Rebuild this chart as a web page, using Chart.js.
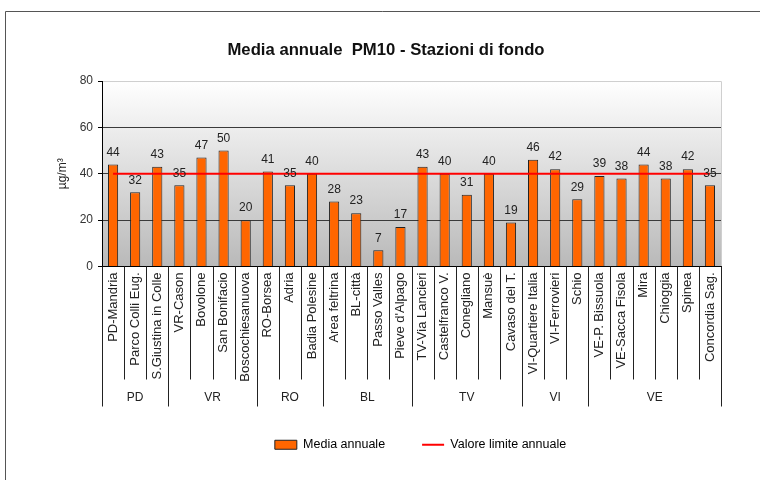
<!DOCTYPE html>
<html>
<head>
<meta charset="utf-8">
<script src="https://cdn.jsdelivr.net/npm/chart.js@4.4.1/dist/chart.umd.min.js"></script>
<style>
  html, body { margin: 0; padding: 0; background: #fff; }
  #wrap { width: 760px; height: 480px; }
</style>
</head>
<body>
<div id="wrap"><canvas id="chart" width="760" height="480"></canvas></div>
<script>
const FONT = "'Liberation Sans', Arial, sans-serif";

// stations, grouped by province
const stations = [
  'PD-Mandria', 'Parco Colli Eug.', 'S.Giustina in Colle',
  'VR-Cason', 'Bovolone', 'San Bonifacio', 'Boscochiesanuova',
  'RO-Borsea', 'Adria', 'Badia Polesine',
  'Area feltrina', 'BL-città', 'Passo Valles', "Pieve d'Alpago",
  'TV-Via Lancieri', 'Castelfranco V.', 'Conegliano', 'Mansuè', 'Cavaso del T.',
  'VI-Quartiere Italia', 'VI-Ferrovieri', 'Schio',
  'VE-P. Bissuola', 'VE-Sacca Fisola', 'Mira', 'Chioggia', 'Spinea', 'Concordia Sag.'
];
const provinces = ['PD', 'VR', 'RO', 'BL', 'TV', 'VI', 'VE'];
const provinceSizes = [3, 4, 3, 4, 5, 3, 6];

const annualMean = [44, 32, 43, 35, 47, 50, 20, 41, 35, 40, 28, 23, 7, 17,
  43, 40, 31, 40, 19, 46, 42, 29, 39, 38, 44, 38, 42, 35];
const annualLimit = [40, 40, 40, 40, 40, 40, 40, 40, 40, 40, 40, 40, 40, 40,
  40, 40, 40, 40, 40, 40, 40, 40, 40, 40, 40, 40, 40, 40];
const yTicks = [0, 20, 40, 60, 80];

// gradient plot background + light frame on top/right
const plotBackground = {
  id: 'plotBackground',
  afterLayout(chart) {
    // legend in the original sits a little right of the plot centre
    chart.legend.left += 9;
    chart.legend.right += 9;
  },
  beforeDraw(chart) {
    const { ctx, chartArea: a } = chart;
    ctx.save();
    const g = ctx.createLinearGradient(0, a.top, 0, a.bottom);
    g.addColorStop(0, '#ffffff');
    g.addColorStop(1, '#b9b9b9');
    ctx.fillStyle = g;
    ctx.fillRect(a.left, a.top, a.right - a.left, a.bottom - a.top);
    ctx.strokeStyle = '#cfcfcf';
    ctx.lineWidth = 1;
    ctx.beginPath();
    ctx.moveTo(a.left, a.top + 0.5);
    ctx.lineTo(a.right + 0.5, a.top + 0.5);
    ctx.lineTo(a.right + 0.5, a.bottom);
    ctx.stroke();
    ctx.restore();
  }
};

// value labels above bars
const barValues = {
  id: 'barValues',
  afterDatasetsDraw(chart) {
    const { ctx } = chart;
    const meta = chart.getDatasetMeta(0);
    ctx.save();
    ctx.font = '12px ' + FONT;
    ctx.fillStyle = '#222';
    ctx.textAlign = 'center';
    ctx.textBaseline = 'bottom';
    meta.data.forEach((bar, i) => {
      ctx.fillText(String(annualMean[i]), bar.x, bar.y - 6);
    });
    ctx.restore();
  }
};

// category separators and province row under the axis
const provinceAxis = {
  id: 'provinceAxis',
  afterDraw(chart) {
    const { ctx, chartArea: a } = chart;
    const x = chart.scales.x;
    const half = (x.getPixelForValue(1) - x.getPixelForValue(0)) / 2;
    const groupEnds = [0];
    provinceSizes.forEach(n => groupEnds.push(groupEnds[groupEnds.length - 1] + n));

    ctx.save();
    ctx.strokeStyle = '#222';
    ctx.lineWidth = 1;
    for (let i = 0; i <= stations.length; i++) {
      const px = Math.round(x.getPixelForValue(i) - half) + 0.5;
      const long = groupEnds.includes(i);
      ctx.beginPath();
      ctx.moveTo(px, a.bottom);
      ctx.lineTo(px, a.bottom + (long ? 140 : 113));
      ctx.stroke();
    }
    ctx.font = '12px ' + FONT;
    ctx.fillStyle = '#222';
    ctx.textAlign = 'center';
    ctx.textBaseline = 'middle';
    provinces.forEach((p, k) => {
      const x0 = x.getPixelForValue(groupEnds[k]) - half;
      const x1 = x.getPixelForValue(groupEnds[k + 1]) - half;
      ctx.fillText(p, (x0 + x1) / 2, a.bottom + 131);
    });

    // page frame
    ctx.strokeStyle = '#555';
    ctx.beginPath();
    ctx.moveTo(760, 11.5);
    ctx.lineTo(5.5, 11.5);
    ctx.lineTo(5.5, 480);
    ctx.stroke();
    ctx.restore();
  }
};

new Chart(document.getElementById('chart'), {
  type: 'bar',
  data: {
    labels: stations,
    datasets: [{
      type: 'bar',
      label: 'Media annuale',
      data: annualMean,
      backgroundColor: '#ff6600',
      borderColor: '#222',
      borderWidth: 1,
      barPercentage: 0.46,
      categoryPercentage: 1,
      order: 1
    }, {
      type: 'line',
      label: 'Valore limite annuale',
      data: annualLimit,
      borderColor: '#ff0000',
      borderWidth: 2,
      pointRadius: 0,
      fill: false,
      order: 0
    }]
  },
  options: {
    responsive: false,
    animation: false,
    devicePixelRatio: 1,
    layout: { padding: { left: 51, right: 39, top: 0, bottom: 19 } },
    scales: {
      x: {
        offset: true,
        grid: { display: false, drawTicks: false },
        border: { display: true, color: '#000', width: 1 },
        ticks: {
          autoSkip: false,
          minRotation: 90,
          maxRotation: 90,
          padding: 6,
          color: '#222',
          font: { family: FONT, size: 13 }
        },
        afterFit(scale) { scale.height = 135; }
      },
      y: {
        min: 0,
        max: 80,
        afterBuildTicks(scale) { scale.ticks = yTicks.map(v => ({ value: v })); },
        grid: {
          color: (c) => c.tick && c.tick.value === 80 ? '#cfcfcf' : '#3a3a3a',
          tickColor: '#000',
          tickLength: 4,
          lineWidth: 1
        },
        border: { display: true, color: '#000', width: 1 },
        ticks: {
          padding: 5,
          color: '#333',
          font: { family: FONT, size: 12 }
        },
        title: {
          display: true,
          text: 'µg/m³',
          color: '#222',
          padding: { top: 4, bottom: 0 },
          font: { family: FONT, size: 12 }
        },
        afterFit(scale) { scale.width = 51; }
      }
    },
    plugins: {
      title: {
        display: true,
        text: 'Media annuale  PM10 - Stazioni di fondo',
        color: '#111',
        font: { family: FONT, size: 16.7, weight: 'bold' },
        padding: { top: 40, bottom: 21 }
      },
      legend: {
        position: 'bottom',
        fullSize: false,
        labels: {
          usePointStyle: true,
          pointStyleWidth: 22,
          boxHeight: 9,
          padding: 37,
          color: '#222',
          font: { family: FONT, size: 12.5 },
          generateLabels: () => [
            { text: 'Media annuale', fillStyle: '#ff6600', strokeStyle: '#222',
              lineWidth: 1, pointStyle: 'rect', datasetIndex: 0, hidden: false },
            { text: 'Valore limite annuale', fillStyle: '#ff0000', strokeStyle: '#ff0000',
              lineWidth: 2, pointStyle: 'line', datasetIndex: 1, hidden: false }
          ]
        }
      },
      tooltip: { enabled: false }
    }
  },
  plugins: [plotBackground, barValues, provinceAxis]
});
</script>
</body>
</html>
